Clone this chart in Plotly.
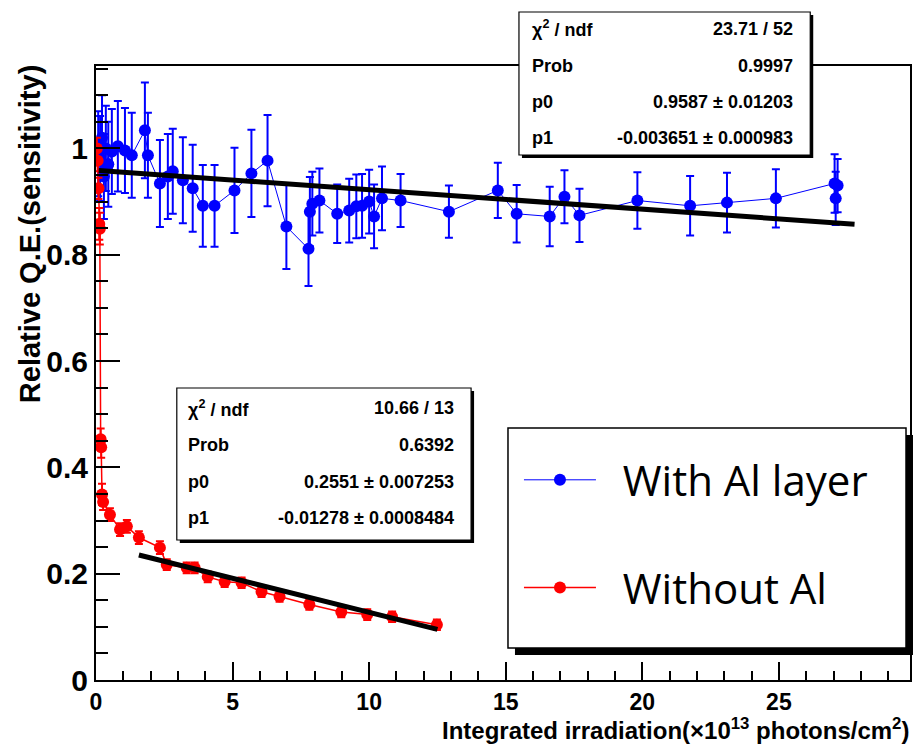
import plotly.graph_objects as go

# ---------------- data ----------------
blue_x = [0.08, 0.15, 0.22, 0.29, 0.36, 0.45, 0.58, 0.80, 1.06, 1.31, 1.79, 1.90, 2.34, 2.63, 2.81,
          3.18, 3.54, 3.91, 4.34, 5.07, 5.69, 6.28, 6.97, 7.78, 7.83, 7.92, 8.18, 8.83, 9.27, 9.53,
          9.74, 10.0, 10.18, 10.47, 11.15, 12.92, 14.71, 15.40, 16.61, 17.15, 17.70, 19.82, 21.75,
          23.10, 24.89, 27.04, 27.15, 27.08]
blue_y = [0.990, 0.981, 1.020, 0.947, 1.000, 0.970, 0.994, 1.004, 0.996, 0.987, 1.034, 0.987, 0.934,
          0.947, 0.957, 0.940, 0.925, 0.892, 0.892, 0.921, 0.953, 0.977, 0.853, 0.811, 0.881, 0.896,
          0.902, 0.877, 0.883, 0.891, 0.892, 0.900, 0.872, 0.906, 0.902, 0.881, 0.921, 0.877, 0.872,
          0.909, 0.874, 0.902, 0.892, 0.898, 0.906, 0.934, 0.930, 0.906]
blue_err = [0.08, 0.08, 0.08, 0.08, 0.08, 0.08, 0.08, 0.085, 0.08, 0.08, 0.09, 0.08, 0.082, 0.08, 0.08,
            0.081, 0.082, 0.077, 0.077, 0.08, 0.082, 0.086, 0.08, 0.07, 0.065, 0.06, 0.06, 0.055, 0.06,
            0.06, 0.06, 0.06, 0.06, 0.06, 0.05, 0.049, 0.052, 0.054, 0.056, 0.05, 0.05, 0.053, 0.056,
            0.056, 0.055, 0.055, 0.05, 0.05]

red_x = [0.03, 0.06, 0.09, 0.12, 0.14, 0.17, 0.19, 0.22, 0.26, 0.51, 0.88, 1.13, 1.57, 2.34, 2.59,
         3.32, 3.61, 4.09, 4.71, 5.33, 6.06, 6.72, 7.81, 8.98, 9.93, 10.84, 12.48]
red_y = [1.000, 0.977, 0.925, 0.858, 0.849, 0.453, 0.438, 0.349, 0.335, 0.311, 0.283, 0.289, 0.268,
         0.249, 0.217, 0.211, 0.211, 0.194, 0.185, 0.183, 0.166, 0.157, 0.142, 0.128, 0.123, 0.119, 0.104]
red_err = [0.02, 0.02, 0.02, 0.03, 0.03, 0.02, 0.02, 0.02, 0.015, 0.012, 0.012, 0.012, 0.012, 0.012,
           0.01, 0.01, 0.01, 0.01, 0.01, 0.01, 0.01, 0.01, 0.01, 0.01, 0.01, 0.01, 0.01]

# fit parameters (from stats boxes) and fit ranges
blue_p0, blue_p1 = 0.9587, -0.003651
red_p0, red_p1 = 0.2551, -0.01278
blue_fit_range = [0.1, 27.77]
red_fit_range = [1.57, 12.5]

blue_stats = [["χ<sup>2</sup> / ndf", "23.71 / 52"], ["Prob", "0.9997"],
              ["p0", "0.9587 ± 0.01203"], ["p1", "-0.003651 ± 0.000983"]]
red_stats = [["χ<sup>2</sup> / ndf", "10.66 / 13"], ["Prob", "0.6392"],
             ["p0", "0.2551 ± 0.007253"], ["p1", "-0.01278 ± 0.0008484"]]

legend_names = ["With Al layer", "Without Al"]

# ---------------- layout geometry (pixels) ----------------
W, H = 916, 746
L, R, T, B = 96, 912, 66, 680


def px(x):
    return (x - L) / (R - L)


def py(y):
    return (B - y) / (B - T)


fig = go.Figure()

fig.add_trace(go.Scatter(
    x=blue_x, y=blue_y, mode="lines+markers", name="\u00a0\u00a0" + legend_names[0], legendgroup="a",
    line=dict(color="#0000ff", width=1),
    marker=dict(color="#0000ff", size=12, symbol="circle"),
    error_y=dict(type="data", array=blue_err, color="#0000ff", thickness=2, width=4),
))
fig.add_trace(go.Scatter(
    x=red_x, y=red_y, mode="lines+markers", name="\u00a0\u00a0" + legend_names[1], legendgroup="b",
    line=dict(color="#ff0000", width=1.5),
    marker=dict(color="#ff0000", size=12, symbol="circle"),
    error_y=dict(type="data", array=red_err, color="#ff0000", thickness=2, width=4),
))

# fit lines
fig.add_trace(go.Scatter(
    x=blue_fit_range, y=[blue_p0 + blue_p1 * v for v in blue_fit_range], mode="lines",
    line=dict(color="black", width=5), showlegend=False, hoverinfo="skip"))
fig.add_trace(go.Scatter(
    x=red_fit_range, y=[red_p0 + red_p1 * v for v in red_fit_range], mode="lines",
    line=dict(color="black", width=5), showlegend=False, hoverinfo="skip"))

shapes = []
annotations = []


def box(x0, y0, x1, y1, shadow, lw=1.2):
    shapes.append(dict(type="rect", xref="paper", yref="paper", layer="above",
                       x0=px(x0 + shadow), x1=px(x1 + shadow), y0=py(y0 + shadow), y1=py(y1 + shadow),
                       fillcolor="black", line=dict(width=0)))
    shapes.append(dict(type="rect", xref="paper", yref="paper", layer="above",
                       x0=px(x0), x1=px(x1), y0=py(y0), y1=py(y1),
                       fillcolor="white", line=dict(color="black", width=lw)))


def stats(rows, x0, x1, ys):
    for (lab, val), yy in zip(rows, ys):
        annotations.append(dict(xref="paper", yref="paper", x=px(x0), y=py(yy), xanchor="left",
                                yanchor="middle", showarrow=False, text=lab,
                                font=dict(family="Liberation Sans", size=18, color="black", weight="bold")))
        annotations.append(dict(xref="paper", yref="paper", x=px(x1), y=py(yy), xanchor="right",
                                yanchor="middle", showarrow=False, text=val,
                                font=dict(family="Liberation Sans", size=18, color="black", weight="bold")))


box(520, 12, 812, 155, 3)
stats(blue_stats, 531, 797, [29, 66, 102, 138])
box(177, 388, 472, 540, 3)
stats(red_stats, 186, 457, [408, 445, 482, 518])

# legend box
box(509, 428, 908, 648, 7, lw=1.5)

# axis titles
annotations.append(dict(xref="paper", yref="paper", x=px(30), y=py(63), xanchor="center", yanchor="top",
                        textangle=-90, showarrow=False, text="Relative Q.E.(sensitivity)",
                        font=dict(family="Liberation Sans", size=29, color="black", weight="bold")))
annotations.append(dict(xref="paper", yref="paper", x=px(913), y=py(746), xanchor="right", yanchor="bottom",
                        showarrow=False,
                        text="Integrated irradiation(×10<sup>13</sup> photons/cm<sup>2</sup>)",
                        font=dict(family="Liberation Sans", size=24, color="black", weight="bold")))

xtickfont = dict(family="Liberation Sans", size=23, color="black", weight="bold")
ytickfont = dict(family="Liberation Sans", size=30, color="black", weight="bold")

fig.update_layout(
    width=W, height=H,
    margin=dict(l=L, r=W - R, t=T, b=H - B),
    paper_bgcolor="white", plot_bgcolor="white",
    shapes=shapes, annotations=annotations,
    showlegend=True,
    legend=dict(x=px(520), y=py(446), xanchor="left", yanchor="top",
                bgcolor="rgba(0,0,0,0)", borderwidth=0,
                font=dict(family="Open Sans", size=42, color="black"),
                itemwidth=72, tracegroupgap=50, traceorder="grouped"),
    xaxis=dict(range=[0, 29.8], showgrid=False, zeroline=False, showline=True, linecolor="black",
               linewidth=2, mirror=True, ticks="inside", ticklen=18, tickwidth=1.5, tickcolor="black",
               tickmode="linear", tick0=0, dtick=5, tickfont=xtickfont, ticklabelstandoff=0,
               minor=dict(ticks="inside", ticklen=9, dtick=1, tickcolor="black", tickwidth=1.5)),
    yaxis=dict(range=[0, 1.155], showgrid=False, zeroline=False, showline=True, linecolor="black",
               linewidth=2, mirror=True, ticks="inside", ticklen=24, tickwidth=1.5, tickcolor="black",
               tickmode="linear", tick0=0, dtick=0.2, tickfont=ytickfont,
               minor=dict(ticks="inside", ticklen=12, dtick=0.05, tickcolor="black", tickwidth=1.5)),
)

fig.write_html("out.html")
